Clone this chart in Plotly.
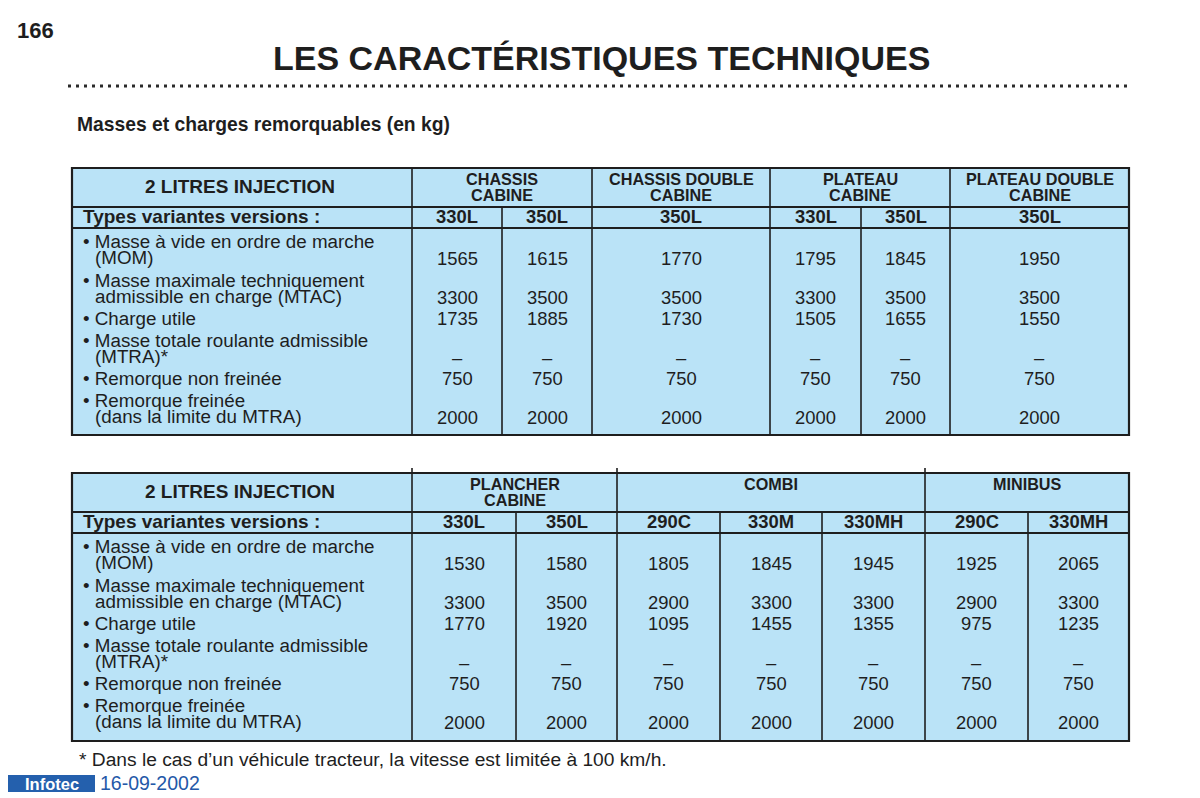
import plotly.graph_objects as go

# ---- data --------------------------------------------------------------
labels = [
    ["• Masse à vide en ordre de marche", "(MOM)"],
    ["• Masse maximale techniquement", "admissible en charge (MTAC)"],
    ["• Charge utile"],
    ["• Masse totale roulante admissible", "(MTRA)*"],
    ["• Remorque non freinée"],
    ["• Remorque freinée", "(dans la limite du MTRA)"],
]

t1_groups = [["CHASSIS", "CABINE"], ["CHASSIS DOUBLE", "CABINE"],
             ["PLATEAU", "CABINE"], ["PLATEAU DOUBLE", "CABINE"]]
t1_versions = ["330L", "350L", "350L", "330L", "350L", "350L"]
t1_mom = [1565, 1615, 1770, 1795, 1845, 1950]
t1_mtac = [3300, 3500, 3500, 3300, 3500, 3500]
t1_charge_utile = [1735, 1885, 1730, 1505, 1655, 1550]
t1_mtra = [None] * 6
t1_non_freinee = [750, 750, 750, 750, 750, 750]
t1_freinee = [2000, 2000, 2000, 2000, 2000, 2000]

t2_groups = [["PLANCHER", "CABINE"], ["COMBI"], ["MINIBUS"]]
t2_versions = ["330L", "350L", "290C", "330M", "330MH", "290C", "330MH"]
t2_mom = [1530, 1580, 1805, 1845, 1945, 1925, 2065]
t2_mtac = [3300, 3500, 2900, 3300, 3300, 2900, 3300]
t2_charge_utile = [1770, 1920, 1095, 1455, 1355, 975, 1235]
t2_mtra = [None] * 7
t2_non_freinee = [750, 750, 750, 750, 750, 750, 750]
t2_freinee = [2000, 2000, 2000, 2000, 2000, 2000, 2000]

# ---- layout / style ----------------------------------------------------
FONT = "Liberation Sans, Arial, sans-serif"
INK = "#1e1e1e"
FILL = "#bae3f7"
LABEL = 18.8
VALUE = 18.4
HEAD = 19

tables = [
    dict(top=168, mid=207, sub=228, bottom=435,
         edges=[72, 412, 502, 592, 770, 861, 950, 1129],
         spans=[(1, 3), (3, 4), (4, 6), (6, 7)],
         groups=t1_groups, versions=t1_versions,
         rows=[t1_mom, t1_mtac, t1_charge_utile, t1_mtra, t1_non_freinee, t1_freinee],
         stub_ticks=[]),
    dict(top=473, mid=512, sub=533, bottom=741,
         edges=[72, 412, 516, 617, 720, 822, 925, 1028, 1129],
         spans=[(1, 3), (3, 6), (6, 8)],
         groups=t2_groups, versions=t2_versions,
         rows=[t2_mom, t2_mtac, t2_charge_utile, t2_mtra, t2_non_freinee, t2_freinee],
         stub_ticks=[412, 617, 925]),
]

# line offsets (relative to the body divider) for each label block
label_lines = [[13, 29], [52, 68], [90], [112, 128], [150], [172, 188]]

shapes = []
ann = []


def text(x, y, s, size, bold=False, anchor="center", color=INK):
    ann.append(dict(x=x, y=y, xref="x", yref="y", text=f"<b>{s}</b>" if bold else s,
                    showarrow=False, xanchor=anchor, yanchor="middle",
                    font=dict(family=FONT, size=size, color=color)))


def line(x0, y0, x1, y1, w=1.6):
    shapes.append(dict(type="line", x0=x0, y0=y0, x1=x1, y1=y1, xref="x", yref="y",
                       line=dict(color=INK, width=w)))


for t in tables:
    e = t["edges"]
    shapes.append(dict(type="rect", x0=e[0], x1=e[-1], y0=t["top"], y1=t["bottom"],
                       xref="x", yref="y", fillcolor=FILL, line=dict(color=INK, width=2.2),
                       layer="below"))
    line(e[0], t["mid"], e[-1], t["mid"], 2)
    line(e[0], t["sub"], e[-1], t["sub"], 2)
    # group dividers go full height, the inner version dividers start below the group row
    group_edges = {e[a] for a, _ in t["spans"]}
    for x in e[1:-1]:
        line(x, t["top"] if x in group_edges else t["mid"], x, t["bottom"])
    for x in t["stub_ticks"]:
        line(x, t["top"] - 5, x, t["top"])

    text((e[0] + e[1]) / 2 - 2, (t["top"] + t["mid"]) / 2 - 1, "2 LITRES INJECTION", HEAD, bold=True)
    text(81, (t["mid"] + t["sub"]) / 2 - 1, "Types variantes versions :", HEAD, bold=True, anchor="left")

    for (a, b), g in zip(t["spans"], t["groups"]):
        cx = (e[a] + e[b]) / 2
        for k, s in enumerate(g):
            text(cx, t["top"] + 11 + 16 * k, s, 16.2, bold=True)

    for i, v in enumerate(t["versions"]):
        text((e[i + 1] + e[i + 2]) / 2, (t["mid"] + t["sub"]) / 2 - 1, v, VALUE, bold=True)

    for lab, offs, vals in zip(labels, label_lines, t["rows"]):
        for k, (s, dy) in enumerate(zip(lab, offs)):
            text(81 if k == 0 else 93, t["sub"] + dy, s, LABEL, anchor="left")
        for i, v in enumerate(vals):
            text((e[i + 1] + e[i + 2]) / 2, t["sub"] + offs[-1] + (1 if len(offs) > 1 else 0),
                 "–" if v is None else str(v), VALUE)

# page furniture
text(15, 30, "166", 22, bold=True, anchor="left")
text(601, 58, "LES CARACTÉRISTIQUES TECHNIQUES", 34, bold=True)
shapes.append(dict(type="line", x0=68, x1=1131, y0=86, y1=86, xref="x", yref="y",
                   line=dict(color="#2a2a2a", width=3, dash="3px,5px")))
text(75, 124, "Masses et charges remorquables (en kg)", 19.3, bold=True, anchor="left")
text(77, 759, "* Dans le cas d’un véhicule tracteur, la vitesse est limitée à 100 km/h.", 19.2, anchor="left")
shapes.append(dict(type="rect", x0=8, x1=95, y0=775, y1=792, xref="x", yref="y",
                   fillcolor="#2460ad", line=dict(width=0)))
text(51.5, 783.5, "Infotec", 16.5, bold=True, color="white")
text(98, 783, "16-09-2002", 19.5, anchor="left", color="#2458a8")

fig = go.Figure()
# the page body has an 8px margin, so the axes start at 8 to keep page pixels = coordinates
fig.update_layout(
    width=1200, height=798,
    margin=dict(l=0, r=0, t=0, b=0),
    paper_bgcolor="white", plot_bgcolor="white",
    showlegend=False,
    shapes=shapes, annotations=ann,
    xaxis=dict(range=[8, 1208], visible=False, fixedrange=True),
    yaxis=dict(range=[806, 8], visible=False, fixedrange=True),
)

fig.write_html("out.html")
